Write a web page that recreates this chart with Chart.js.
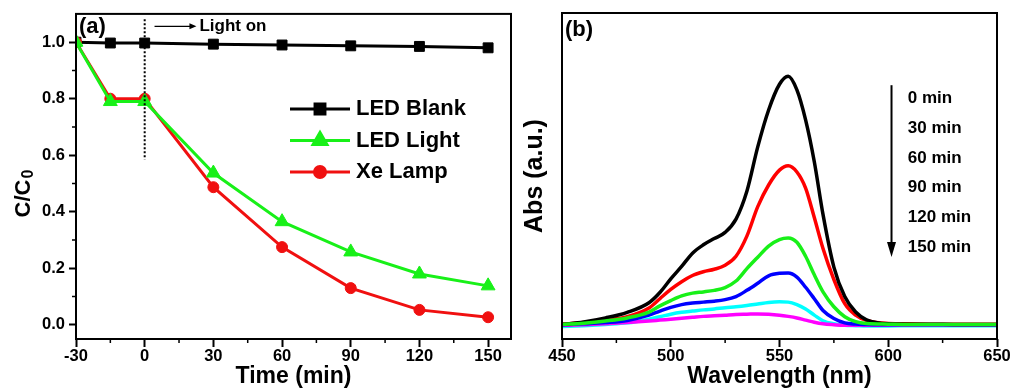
<!DOCTYPE html>
<html>
<head>
<meta charset="utf-8">
<script src="https://cdn.jsdelivr.net/npm/chart.js@4.4.0/dist/chart.umd.min.js"></script>
<style>
  html, body { margin: 0; padding: 0; background: #fff; }
  #wrap { position: relative; width: 1014px; height: 390px; }
  .panel { position: absolute; top: 0; height: 390px; }
  #pa { left: 0; width: 520px; }
  #pb { left: 520px; width: 494px; }
</style>
</head>
<body>
<div id="wrap">
  <div class="panel" id="pa"><canvas id="chartA"></canvas></div>
  <div class="panel" id="pb"><canvas id="chartB"></canvas></div>
</div>
<script>
// (a) C/C0 against irradiation time
var timeMin  = [-30, -15, 0, 30, 60, 90, 120, 150];
var ledBlank = [1.0, 0.997, 0.997, 0.993, 0.99, 0.987, 0.985, 0.98];
var ledLight = [1.0, 0.79, 0.79, 0.537, 0.365, 0.258, 0.18, 0.138];
var xeLamp   = [1.0, 0.80, 0.80, 0.487, 0.275, 0.13, 0.053, 0.027];
var seriesA  = ['LED Blank', 'LED Light', 'Xe Lamp'];
var timeMinor  = [-15, 15, 45, 75, 105, 135];
var ratioMinor = [0.1, 0.3, 0.5, 0.7, 0.9];

// (b) absorption spectra taken every 30 min
var wavelength = [450, 460, 470, 480, 490, 495, 500, 505, 510, 515, 520, 525, 530, 535, 540, 545,
                  550, 554, 558, 562, 566, 570, 575, 580, 585, 590, 600, 610, 620, 630, 640, 650];
var abs0   = [0.005, 0.013, 0.026, 0.044, 0.075, 0.108, 0.152, 0.192, 0.235, 0.262, 0.282, 0.302, 0.345, 0.435, 0.578, 0.697,
              0.78, 0.806, 0.762, 0.665, 0.53, 0.36, 0.19, 0.095, 0.045, 0.02, 0.007, 0.006, 0.006, 0.005, 0.005, 0.005];
var abs30  = [0.006, 0.011, 0.019, 0.03, 0.058, 0.088, 0.118, 0.143, 0.163, 0.175, 0.183, 0.196, 0.225, 0.29, 0.385, 0.455,
              0.503, 0.517, 0.497, 0.445, 0.35, 0.25, 0.15, 0.072, 0.035, 0.018, 0.008, 0.007, 0.006, 0.006, 0.006, 0.006];
var abs60  = [0.005, 0.009, 0.016, 0.026, 0.045, 0.065, 0.082, 0.097, 0.106, 0.11, 0.115, 0.124, 0.145, 0.185, 0.222, 0.258,
              0.279, 0.284, 0.27, 0.225, 0.165, 0.11, 0.062, 0.03, 0.014, 0.008, 0.006, 0.005, 0.005, 0.005, 0.005, 0.005];
var abs90  = [0.004, 0.007, 0.011, 0.018, 0.035, 0.048, 0.06, 0.069, 0.074, 0.077, 0.08, 0.085, 0.095, 0.115, 0.138, 0.162,
              0.17, 0.171, 0.158, 0.125, 0.088, 0.05, 0.024, 0.01, 0.006, 0.005, 0.004, 0.004, 0.004, 0.004, 0.004, 0.004];
var abs120 = [-0.002, 0.001, 0.005, 0.01, 0.022, 0.03, 0.038, 0.044, 0.048, 0.052, 0.055, 0.059, 0.062, 0.066, 0.071, 0.076,
              0.078, 0.077, 0.069, 0.055, 0.035, 0.017, 0.007, 0.002, 0.001, 0.0, 0.0, 0.001, 0.001, 0.001, 0.001, 0.001];
var abs150 = [0.002, 0.004, 0.007, 0.011, 0.016, 0.019, 0.022, 0.025, 0.028, 0.031, 0.033, 0.035, 0.037, 0.038, 0.039, 0.038,
              0.035, 0.031, 0.026, 0.019, 0.012, 0.007, 0.004, 0.002, 0.002, 0.002, 0.003, 0.003, 0.003, 0.003, 0.003, 0.003];
var spectraLabels = ['0 min', '30 min', '60 min', '90 min', '120 min', '150 min'];
var wlMinor = [475, 525, 575, 625];

var FONT = "'Liberation Sans', Arial, sans-serif";
Chart.defaults.font.family = FONT;
Chart.defaults.font.weight = 'bold';
Chart.defaults.font.size = 16.5;
Chart.defaults.color = '#000';

function pts(xs, ys) {
  return xs.map(function(x, i) { return { x: x, y: ys[i] }; });
}

// box around the plot area + short minor ticks
var frame = {
  id: 'frame',
  afterDraw: function(chart, args, opts) {
    var ctx = chart.ctx, a = chart.chartArea;
    ctx.save();
    ctx.strokeStyle = '#000';
    ctx.lineWidth = 2;
    ctx.strokeRect(a.left, a.top, a.right - a.left, a.bottom - a.top);
    ctx.lineWidth = 1.5;
    ctx.beginPath();
    (opts.xMinor || []).forEach(function(v) {
      var px = chart.scales.x.getPixelForValue(v);
      ctx.moveTo(px, a.bottom); ctx.lineTo(px, a.bottom + 4);
    });
    (opts.yMinor || []).forEach(function(v) {
      var py = chart.scales.y.getPixelForValue(v);
      ctx.moveTo(a.left, py); ctx.lineTo(a.left - 4, py);
    });
    ctx.stroke();
    ctx.restore();
  }
};

function arrowHead(ctx, x, y, dx, dy, len, half) {
  // tip at (x, y), pointing along (dx, dy)
  ctx.beginPath();
  ctx.moveTo(x, y);
  ctx.lineTo(x - dx * len - dy * half, y - dy * len + dx * half);
  ctx.lineTo(x - dx * len + dy * half, y - dy * len - dx * half);
  ctx.closePath();
  ctx.fill();
}

var notesA = {
  id: 'notesA',
  afterDraw: function(chart) {
    var ctx = chart.ctx, a = chart.chartArea;
    var xs = chart.scales.x, ys = chart.scales.y;
    ctx.save();
    ctx.fillStyle = '#000';
    ctx.strokeStyle = '#000';

    ctx.font = 'bold 22px ' + FONT;
    ctx.textBaseline = 'middle';
    ctx.fillText('(a)', a.left + 3, a.top + 13);

    // light switched on at t = 0
    ctx.lineWidth = 2;
    ctx.setLineDash([2, 2]);
    ctx.beginPath();
    ctx.moveTo(xs.getPixelForValue(0), ys.getPixelForValue(1.081));
    ctx.lineTo(xs.getPixelForValue(0), ys.getPixelForValue(0.585));
    ctx.stroke();
    ctx.setLineDash([]);

    var ay = ys.getPixelForValue(1.056);
    var ax0 = xs.getPixelForValue(4.3), ax1 = xs.getPixelForValue(22.6);
    ctx.lineWidth = 1.2;
    ctx.beginPath(); ctx.moveTo(ax0, ay); ctx.lineTo(ax1 - 5, ay); ctx.stroke();
    arrowHead(ctx, ax1, ay, 1, 0, 7, 3);
    ctx.font = 'bold 17px ' + FONT;
    ctx.fillText('Light on', ax1 + 3, ay);

    // y title with subscript
    ctx.translate(a.left - 52, (a.top + a.bottom) / 2 + 41);
    ctx.rotate(-Math.PI / 2);
    ctx.font = 'bold 22px ' + FONT;
    ctx.textBaseline = 'middle';
    ctx.fillText('C/C', 0, 0);
    var w = ctx.measureText('C/C').width;
    ctx.font = 'bold 16px ' + FONT;
    ctx.fillText('0', w + 1, 5);
    ctx.restore();

    // legend
    ctx.save();
    var lx = 290, ly = 109, gap = 31.5, len = 60;
    chart.data.datasets.forEach(function(ds, i) {
      var y = ly + i * gap;
      ctx.strokeStyle = ds.borderColor;
      ctx.fillStyle = ds.pointBackgroundColor;
      ctx.lineWidth = ds.borderWidth;
      ctx.beginPath(); ctx.moveTo(lx, y); ctx.lineTo(lx + len, y); ctx.stroke();
      Chart.helpers.drawPoint(ctx, { pointStyle: ds.pointStyle, radius: ds.pointRadius, borderWidth: 1, rotation: 0 }, lx + len / 2, y);
      ctx.fillStyle = '#000';
      ctx.font = 'bold 22px ' + FONT;
      ctx.textBaseline = 'middle';
      ctx.fillText(ds.label, lx + len + 6, y);
    });
    ctx.restore();
  }
};

var notesB = {
  id: 'notesB',
  afterDraw: function(chart) {
    var ctx = chart.ctx, a = chart.chartArea;
    var xs = chart.scales.x, ys = chart.scales.y;
    ctx.save();
    ctx.fillStyle = '#000';
    ctx.strokeStyle = '#000';
    ctx.font = 'bold 22px ' + FONT;
    ctx.textBaseline = 'middle';
    ctx.fillText('(b)', a.left + 3, a.top + 17);

    var ax = xs.getPixelForValue(601.5);
    var y0 = ys.getPixelForValue(0.777), y1 = ys.getPixelForValue(0.223);
    ctx.lineWidth = 2;
    ctx.beginPath(); ctx.moveTo(ax, y0); ctx.lineTo(ax, y1 - 8); ctx.stroke();
    arrowHead(ctx, ax, y1, 0, 1, 15, 4.5);

    ctx.font = 'bold 17px ' + FONT;
    var tx = xs.getPixelForValue(609), ty = ys.getPixelForValue(0.735);
    spectraLabels.forEach(function(s, i) {
      ctx.fillText(s, tx, ty + i * 29.8);
    });
    ctx.restore();
  }
};

var lineA = function(label, ys, color, style, r, order) {
  return {
    label: label, data: pts(timeMin, ys),
    borderColor: color, backgroundColor: color, pointBackgroundColor: color, pointBorderColor: color,
    borderWidth: 3, pointStyle: style, pointRadius: r, pointBorderWidth: 1, order: order
  };
};

new Chart(document.getElementById('chartA'), {
  type: 'line',
  data: {
    datasets: [
      lineA(seriesA[0], ledBlank, '#000000', 'rect', 7, 2),
      lineA(seriesA[1], ledLight, '#18f018', 'triangle', 8, 0),
      lineA(seriesA[2], xeLamp, '#f01010', 'circle', 5.5, 1)
    ]
  },
  options: {
    responsive: true, maintainAspectRatio: false, animation: false,
    layout: { padding: { top: 13, right: 8, left: 0, bottom: 0 } },
    plugins: { legend: { display: false }, tooltip: { enabled: false }, frame: { xMinor: timeMinor, yMinor: ratioMinor } },
    scales: {
      x: {
        type: 'linear', min: -30, max: 160,
        afterFit: function(s) { s.height = 51; },
        ticks: { stepSize: 30, includeBounds: false, padding: 0, maxRotation: 0 },
        grid: { drawOnChartArea: false, tickLength: 8, tickWidth: 2, tickColor: '#000' },
        border: { display: false },
        title: { display: true, text: 'Time (min)', font: { size: 23, weight: 'bold' }, padding: { top: 2, bottom: 0 } }
      },
      y: {
        min: -0.05, max: 1.1,
        afterFit: function(s) { s.width = 76; },
        ticks: { stepSize: 0.2, includeBounds: false, padding: 4, callback: function(v) { return v.toFixed(1); } },
        grid: { drawOnChartArea: false, tickLength: 7, tickWidth: 2, tickColor: '#000' },
        border: { display: false }
      }
    }
  },
  plugins: [frame, notesA]
});

var lineB = function(ys, color, order) {
  return {
    data: pts(wavelength, ys), borderColor: color, borderWidth: 3.5,
    pointRadius: 0, cubicInterpolationMode: 'monotone', order: order
  };
};

new Chart(document.getElementById('chartB'), {
  type: 'line',
  data: {
    datasets: [
      lineB(abs0, '#000000', 1),
      lineB(abs30, '#ff0000', 2),
      lineB(abs60, '#18f018', 0),
      lineB(abs90, '#0000ff', 3),
      lineB(abs120, '#00ffff', 5),
      lineB(abs150, '#ff00ff', 4)
    ]
  },
  options: {
    responsive: true, maintainAspectRatio: false, animation: false,
    layout: { padding: { top: 13, right: 17, left: 0, bottom: 0 } },
    plugins: { legend: { display: false }, tooltip: { enabled: false }, frame: { xMinor: wlMinor } },
    scales: {
      x: {
        type: 'linear', min: 450, max: 650,
        afterFit: function(s) { s.height = 51; },
        ticks: { stepSize: 50, padding: 0, maxRotation: 0 },
        grid: { drawOnChartArea: false, tickLength: 8, tickWidth: 2, tickColor: '#000' },
        border: { display: false },
        title: { display: true, text: 'Wavelength (nm)', font: { size: 23, weight: 'bold' }, padding: { top: 2, bottom: 0 } }
      },
      y: {
        min: -0.042, max: 1.01,
        afterFit: function(s) { s.width = 42; },
        ticks: { display: false },
        grid: { display: false },
        border: { display: false },
        title: { display: true, text: 'Abs (a.u.)', font: { size: 25, weight: 'bold' }, padding: 0 }
      }
    }
  },
  plugins: [frame, notesB]
});
</script>
</body>
</html>
